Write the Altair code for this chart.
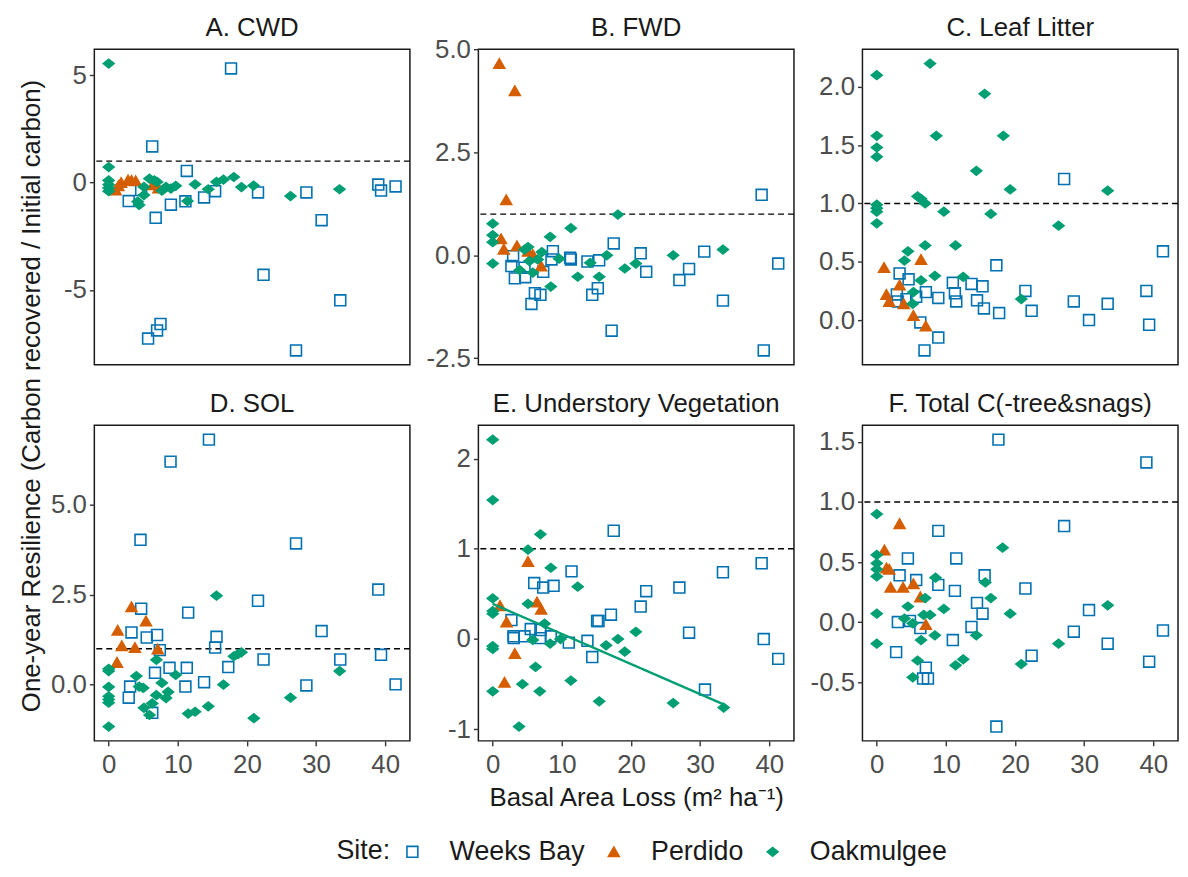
import pandas as pd
import altair as alt

FONT = "Liberation Sans"

SITES = ["Weeks Bay", "Perdido", "Oakmulgee"]
SITE_COLORS = ["#0072B2", "#D55E00", "#009E73"]
SITE_FILLS = ["transparent", "#D55E00", "#009E73"]
SITE_SHAPES = ["square", "triangle-up", "M-1,0L0,-0.8L1,0L0,0.8Z"]
SITE_SIZES = [120, 120, 95]

X_TICKS = [0, 10, 20, 30, 40]

# (basal area loss, one-year resilience)
cwd_weeks = [(17.7, 5.31), (6.3, 1.68), (11.3, 0.54), (2.9, -0.86), (4.7, -0.35), (6.8, -1.64),
             (9.0, -1.03), (11.1, -0.87), (13.8, -0.69), (15.4, -0.40), (21.6, -0.46), (22.4, -4.29),
             (27.1, -7.81), (28.6, -0.46), (30.8, -1.75), (33.5, -5.48), (39.0, -0.09), (39.4, -0.37),
             (41.5, -0.18), (5.7, -7.26), (7.0, -6.88), (7.5, -6.58)]
cwd_perdido = [(1.0, -0.35), (1.4, -0.15), (1.8, 0.0), (2.8, 0.12), (3.3, 0.1), (3.9, 0.08),
               (6.4, -0.1), (7.2, -0.25)]
cwd_oak = [(0, 5.54), (0, 0.72), (0, 0.1), (0, -0.1), (0, -0.25), (0, -0.4), (4.2, -0.89), (4.4, -1.04),
           (5.1, -0.58), (5.1, -0.2), (5.9, 0.18), (6.6, 0.1), (7.0, 0.03), (7.7, -0.38), (8.3, -0.2),
           (9.0, -0.28), (9.7, -0.15), (11.4, -0.86), (12.5, -0.08), (14.4, -0.31), (15.6, 0.03),
           (16.6, 0.14), (18.1, 0.26), (19.2, -0.21), (20.95, -0.14), (26.3, -0.63), (33.4, -0.31)]

fwd_weeks = [(38.9, 1.47), (17.5, 0.29), (21.4, 0.05), (30.6, 0.09), (22.2, -0.40), (28.4, -0.33),
             (27.0, -0.60), (41.3, -0.20), (33.3, -1.10), (17.2, -1.83), (39.2, -2.31), (2.95, -0.02),
             (2.7, -0.26), (3.2, -0.56), (4.7, -0.53), (4.6, -0.3), (5.6, -1.18), (6.1, -0.92),
             (6.9, -0.96), (7.3, -0.40), (8.7, 0.1), (8.5, -0.1), (11.2, -0.06), (11.3, -0.1),
             (13.7, -0.15), (15.4, -0.12), (15.2, -0.80), (14.4, -0.96)]
fwd_perdido = [(0.95, 4.66), (3.2, 4.0), (1.95, 1.35), (1.2, 0.40), (1.6, 0.15), (3.5, 0.23),
               (5.1, 0.1), (5.8, 0.02), (7.0, -0.26)]
fwd_oak = [(0, 0.77), (0, 0.49), (0, 0.32), (0, -0.20), (4.6, 0.14), (5.1, 0.2), (3.9, -0.36),
           (5.3, -0.14), (5.8, -0.42), (6.5, -0.1), (7.1, 0.08), (8.3, 0.45), (8.4, -0.76), (9.6, -0.08),
           (11.3, 0.66), (12.3, -0.52), (14.1, -0.18), (15.4, -0.52), (16.5, 0.0), (18.1, 0.99),
           (19.1, -0.32), (20.7, -0.2), (26.1, 0.0), (33.3, 0.14)]

leaf_weeks = [(27.1, 1.21), (41.4, 0.59), (17.3, 0.47), (3.3, 0.40), (4.6, 0.35), (2.9, 0.22),
              (3.05, 0.16), (4.3, 0.18), (5.7, 0.20), (7.1, 0.24), (8.9, 0.19), (11.0, 0.32),
              (11.3, 0.23), (11.5, 0.16), (13.7, 0.31), (14.5, 0.17), (15.3, 0.29), (15.5, 0.10),
              (17.7, 0.06), (21.5, 0.25), (22.4, 0.08), (28.5, 0.16), (30.7, 0.0), (33.4, 0.14),
              (39.0, 0.25), (39.4, -0.04), (6.3, -0.02), (8.9, -0.15), (6.9, -0.26)]
leaf_perdido = [(1.05, 0.45), (6.4, 0.52), (3.3, 0.30), (1.4, 0.22), (1.8, 0.16), (3.9, 0.14),
                (5.3, 0.04), (7.1, -0.05)]
leaf_oak = [(0, 2.10), (0, 1.58), (0, 1.48), (0, 1.40), (0, 0.99), (0, 0.96), (0, 0.93), (0, 0.83),
            (7.7, 2.20), (15.6, 1.94), (8.6, 1.58), (18.3, 1.58), (14.4, 1.28), (19.3, 1.12),
            (33.4, 1.11), (5.9, 1.06), (6.4, 1.04), (7.0, 1.0), (9.7, 0.93), (16.5, 0.91), (26.3, 0.81),
            (7.0, 0.64), (11.4, 0.64), (4.5, 0.59), (4.0, 0.51), (8.4, 0.38), (12.5, 0.37), (6.4, 0.34),
            (5.3, 0.24), (5.2, 0.14), (20.9, 0.18)]

sol_weeks = [(14.5, 6.80), (8.95, 6.19), (4.6, 4.02), (27.1, 3.92), (39.0, 2.64), (21.6, 2.33),
             (4.7, 2.11), (11.5, 2.0), (30.8, 1.49), (3.3, 1.45), (5.5, 1.31), (7.0, 1.38), (15.6, 1.33),
             (15.4, 1.03), (7.4, 0.96), (39.4, 0.83), (22.4, 0.70), (33.5, 0.70), (17.3, 0.49),
             (8.8, 0.47), (11.3, 0.47), (6.7, 0.33), (13.8, 0.07), (3.1, -0.05), (11.1, -0.05),
             (28.6, -0.02), (41.5, 0.01), (2.9, -0.36), (6.3, -0.78)]
sol_perdido = [(3.3, 2.16), (5.4, 1.77), (1.3, 1.51), (1.9, 1.08), (3.8, 1.03), (7.1, 0.99), (1.2, 0.62)]
sol_oak = [(0, 0.44), (0, 0.38), (0, -0.06), (0, -0.32), (0, -0.41), (0, -0.50), (0, -1.16),
           (15.6, 2.47), (19.2, 0.90), (18.7, 0.85), (18.1, 0.79), (6.9, 0.69), (33.4, 0.38), (9.7, 0.27),
           (4.0, 0.24), (7.7, 0.05), (16.6, 0.0), (4.4, -0.05), (5.0, -0.09), (8.6, -0.2), (6.9, -0.29),
           (8.3, -0.37), (26.3, -0.36), (6.3, -0.52), (5.1, -0.64), (14.4, -0.60), (5.9, -0.84),
           (11.5, -0.80), (12.5, -0.75), (21.0, -0.93)]

und_weeks = [(17.5, 1.20), (38.9, 0.84), (33.3, 0.74), (11.4, 0.75), (6.0, 0.62), (7.3, 0.57),
             (8.8, 0.59), (22.2, 0.53), (27.0, 0.57), (21.4, 0.36), (17.1, 0.27), (15.3, 0.20),
             (15.1, 0.20), (2.7, 0.21), (28.4, 0.07), (5.5, 0.11), (6.9, 0.10), (3.0, 0.03), (3.05, 0.01),
             (4.6, 0.03), (6.9, 0.01), (8.4, 0.03), (11.0, -0.04), (13.7, -0.02), (39.2, 0.0),
             (41.3, -0.22), (14.4, -0.20), (30.7, -0.56)]
und_perdido = [(5.1, 0.86), (1.05, 0.37), (6.4, 0.41), (7.0, 0.33), (2.0, 0.19), (3.2, -0.16), (1.7, -0.48)]
und_oak = [(0, 2.21), (0, 1.54), (0, 0.45), (0, 0.31), (0, 0.28), (0, -0.08), (0, -0.11), (0, -0.58),
           (6.9, 1.16), (5.1, 0.99), (8.4, 0.79), (12.3, 0.58), (5.1, 0.39), (7.5, 0.17), (5.8, -0.01),
           (8.3, -0.05), (9.8, 0.0), (18.1, 0.0), (16.4, -0.07), (19.1, -0.14), (20.7, 0.08),
           (6.2, -0.31), (11.3, -0.46), (4.3, -0.50), (6.8, -0.58), (15.4, -0.69), (26.1, -0.71),
           (3.8, -0.97), (33.4, -0.76)]

tot_weeks = [(17.6, 1.52), (39.0, 1.33), (27.1, 0.80), (8.9, 0.76), (4.5, 0.53), (11.5, 0.53),
             (3.3, 0.39), (15.6, 0.39), (5.7, 0.35), (8.9, 0.31), (21.5, 0.28), (11.3, 0.26),
             (14.5, 0.16), (15.3, 0.07), (30.7, 0.10), (3.05, 0.0), (4.8, 0.01), (6.3, -0.05),
             (13.7, -0.04), (41.4, -0.07), (28.5, -0.08), (11.0, -0.15), (33.4, -0.18), (2.8, -0.25),
             (22.4, -0.28), (39.4, -0.33), (7.1, -0.38), (6.7, -0.47), (7.4, -0.47), (17.3, -0.87)]
tot_perdido = [(3.3, 0.82), (1.1, 0.60), (1.4, 0.45), (1.8, 0.44), (2.0, 0.29), (3.8, 0.29),
               (5.3, 0.32), (6.3, 0.21), (7.1, -0.02)]
tot_oak = [(0, 0.90), (0, 0.56), (0, 0.49), (0, 0.44), (0, 0.38), (0, 0.07), (0, -0.18), (18.2, 0.62),
           (8.5, 0.37), (15.7, 0.33), (7.0, 0.20), (16.5, 0.20), (9.7, 0.11), (4.5, 0.13), (19.3, 0.07),
           (33.4, 0.14), (4.0, 0.03), (5.2, -0.01), (6.8, 0.06), (7.7, 0.06), (8.4, -0.11), (6.4, -0.15),
           (14.4, -0.11), (26.3, -0.18), (5.9, -0.32), (12.5, -0.31), (11.4, -0.36), (20.9, -0.35),
           (5.2, -0.46)]

# title, data per site, y tick values, tick format
panels = [
    ("A. CWD", cwd_weeks, cwd_perdido, cwd_oak, [-5, 0, 5], "d"),
    ("B. FWD", fwd_weeks, fwd_perdido, fwd_oak, [-2.5, 0, 2.5, 5], ".1f"),
    ("C. Leaf Litter", leaf_weeks, leaf_perdido, leaf_oak, [0, 0.5, 1, 1.5, 2], ".1f"),
    ("D. SOL", sol_weeks, sol_perdido, sol_oak, [0, 2.5, 5], ".1f"),
    ("E. Understory Vegetation", und_weeks, und_perdido, und_oak, [-1, 0, 1, 2], "d"),
    ("F. Total C(-tree&snags)", tot_weeks, tot_perdido, tot_oak, [-0.5, 0, 0.5, 1, 1.5], ".1f"),
]

PANEL_W = 318
PANEL_H = 318


def to_df(pairs, site):
    d = pd.DataFrame(pairs, columns=["x", "y"])
    d["Site"] = site
    return d


all_x = [p[0] for pn in panels for grp in pn[1:4] for p in grp]
x_pad = 0.05 * (max(all_x) - min(all_x))
x_domain = [min(all_x) - x_pad, max(all_x) + x_pad]

legend = alt.Legend(title="Site:", orient="none", legendX=244, legendY=795, direction="horizontal",
                    titleOrient="left", symbolSize=80, symbolStrokeWidth=1.6, labelOffset=24,
                    columnPadding=15, titlePadding=8)


def make_panel(i, title, wb, pe, oak, y_ticks, fmt):
    df = pd.concat([to_df(wb, SITES[0]), to_df(pe, SITES[1]), to_df(oak, SITES[2])], ignore_index=True)
    lo, hi = df["y"].min(), df["y"].max()
    pad = 0.05 * (hi - lo)
    y_scale = alt.Scale(domain=[lo - pad, hi + pad], nice=False, zero=False)
    x_scale = alt.Scale(domain=x_domain, nice=False, zero=False)

    if i < 3:
        x_enc = alt.X("x:Q", scale=x_scale, axis=None)
    elif i == 4:
        x_enc = alt.X("x:Q", scale=x_scale,
                      axis=alt.Axis(values=X_TICKS, title="Basal Area Loss (m² ha⁻¹)", titlePadding=7))
    else:
        x_enc = alt.X("x:Q", scale=x_scale, axis=alt.Axis(values=X_TICKS), title=None)

    label_fix = "replace(datum.label, '\u2212', '-')"
    if i == 0:
        # one shared y title, centred between the two rows
        y_axis = alt.Axis(values=y_ticks, format=fmt, labelExpr=label_fix,
                          title="One-year Resilience (Carbon recovered / Initial carbon)",
                          titleY=349, titleX=-50)
        y_enc = alt.Y("y:Q", scale=y_scale, axis=y_axis)
    else:
        y_axis = alt.Axis(values=y_ticks, format=fmt, labelExpr=label_fix)
        y_enc = alt.Y("y:Q", scale=y_scale, axis=y_axis, title=None)

    points = alt.Chart(df).mark_point(opacity=1, strokeWidth=1.6).encode(
        x=x_enc,
        y=y_enc,
        color=alt.Color("Site:N", scale=alt.Scale(domain=SITES, range=SITE_COLORS), legend=legend),
        fill=alt.Fill("Site:N", scale=alt.Scale(domain=SITES, range=SITE_FILLS), legend=legend),
        shape=alt.Shape("Site:N", scale=alt.Scale(domain=SITES, range=SITE_SHAPES), legend=legend),
        size=alt.Size("Site:N", scale=alt.Scale(domain=SITES, range=SITE_SIZES), legend=None),
    )

    ref = alt.Chart(pd.DataFrame({"y": [1.0]})).mark_rule(
        color="black", strokeDash=[6, 4], strokeWidth=1.4
    ).encode(y=alt.Y("y:Q", scale=y_scale))

    layers = [ref, points]
    if i == 4:
        fit = alt.Chart(to_df(oak, SITES[2])).transform_regression("x", "y").mark_line(
            color="#009E73", strokeWidth=2.5
        ).encode(x=alt.X("x:Q", scale=x_scale), y=alt.Y("y:Q", scale=y_scale))
        layers.append(fit)

    # top tick label of B pokes above the frame; pull its title down to match the others
    offset = -4.5 if i == 1 else 8
    return alt.layer(*layers).properties(
        width=PANEL_W, height=PANEL_H, title=alt.TitleParams(title, offset=offset)
    )


charts = [make_panel(i, *p) for i, p in enumerate(panels)]

chart = alt.concat(
    *charts, columns=3, spacing={"row": 61, "column": 69}, bounds="flush"
).resolve_scale(
    y="independent"
).properties(
    padding={"left": 10, "top": 3, "right": 0, "bottom": 52}
).configure_view(
    stroke="#1a1a1a", strokeWidth=1.5
).configure_axis(
    domain=False, grid=False, tickColor="#333333", tickWidth=1.4, tickSize=5,
    labelFont=FONT, labelFontSize=26, labelColor="#4D4D4D", labelPadding=3,
    titleFont=FONT, titleFontSize=26, titleFontWeight="normal", titleColor="#1a1a1a", titlePadding=6,
).configure_axisBottom(
    labelPadding=6
).configure_title(
    font=FONT, fontSize=26, fontWeight="normal", color="#1a1a1a", anchor="middle"
).configure_legend(
    labelFont=FONT, titleFont=FONT, labelFontSize=27, titleFontSize=27, titleFontWeight="normal",
    labelColor="#1a1a1a", titleColor="#1a1a1a"
)

chart.save("out.html", embed_options={"renderer": "svg", "actions": False})
